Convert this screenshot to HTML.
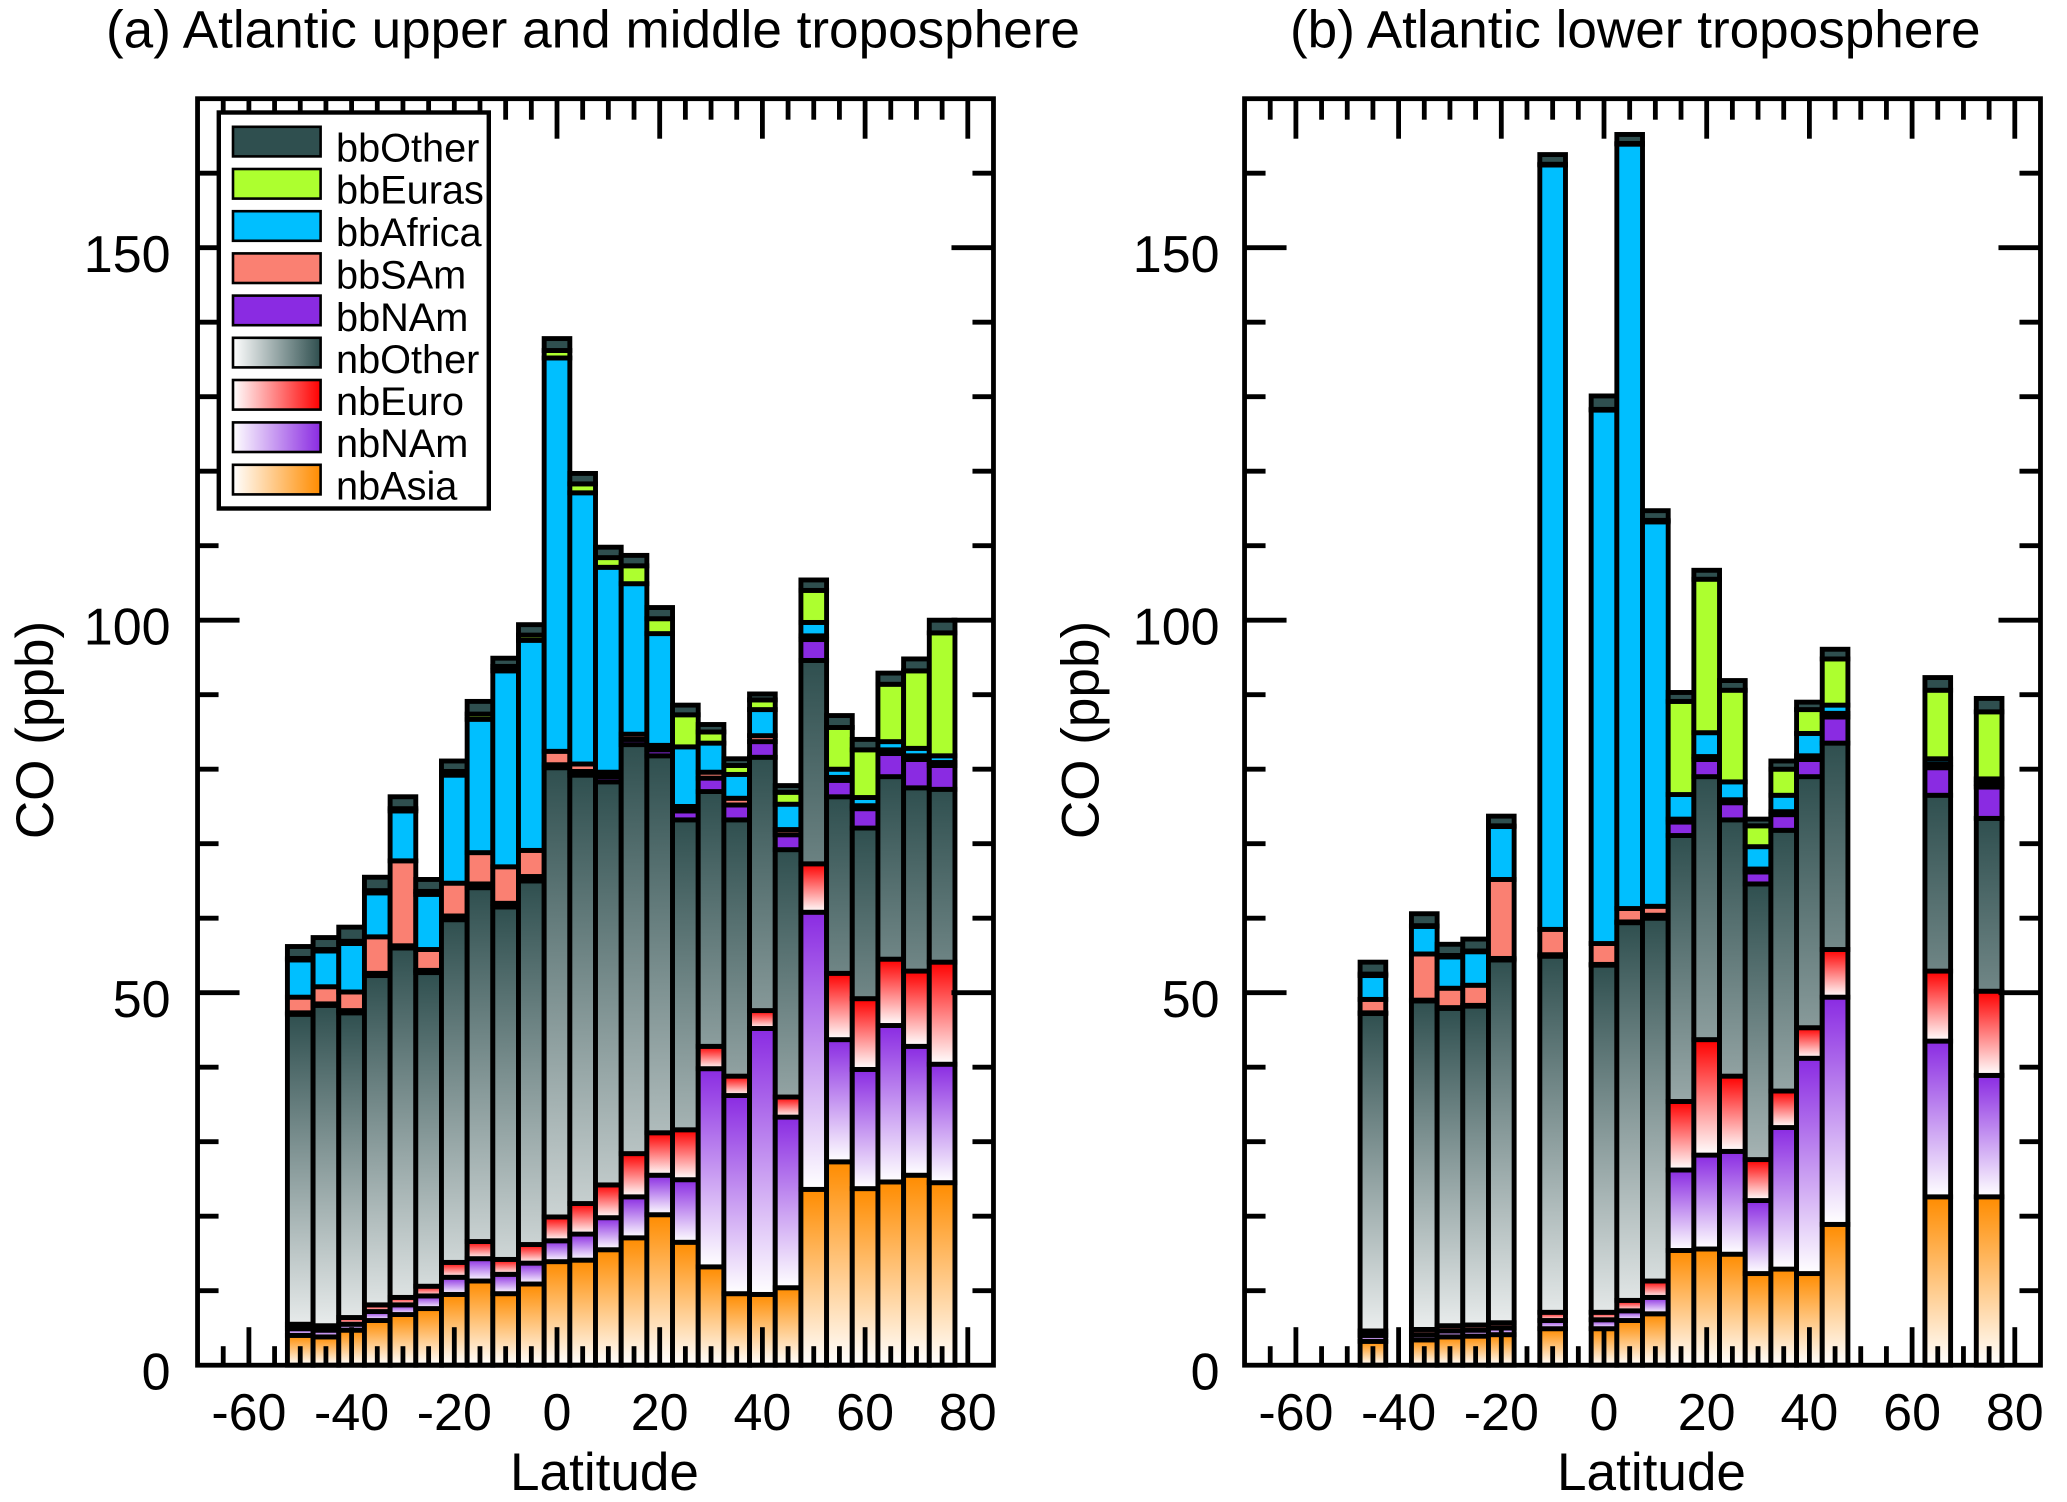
<!DOCTYPE html>
<html lang="en">
<head>
<meta charset="utf-8">
<title>Atlantic CO source contributions by latitude</title>
<style>
html,body{margin:0;padding:0;background:#fff;}
svg{display:block;}
text{font-family:"Liberation Sans",Arial,sans-serif;fill:#000;}
.big{font-size:52px;}
.title{font-size:53.1px;}
.leg{font-size:39.7px;}
</style>
</head>
<body>
<svg id="chart" xmlns="http://www.w3.org/2000/svg" width="2067" height="1502" viewBox="0 0 2067 1502">
  <defs id="defs">
    <linearGradient id="lg-other" x1="0" x2="1" y1="0" y2="0"><stop offset="0" stop-color="#fff"/><stop offset="1" stop-color="#2f4f4f"/></linearGradient>
    <linearGradient id="lg-euro" x1="0" x2="1" y1="0" y2="0"><stop offset="0" stop-color="#fff"/><stop offset="1" stop-color="#ff0000"/></linearGradient>
    <linearGradient id="lg-nam" x1="0" x2="1" y1="0" y2="0"><stop offset="0" stop-color="#fff"/><stop offset="1" stop-color="#8a2be2"/></linearGradient>
    <linearGradient id="lg-asia" x1="0" x2="1" y1="0" y2="0"><stop offset="0" stop-color="#fff"/><stop offset="1" stop-color="#ff8c00"/></linearGradient>
  </defs>

  <text class="title" x="106" y="47.5">(a) Atlantic upper and middle troposphere</text>
  <text class="title" x="1290" y="47.5">(b) Atlantic lower troposphere</text>

  <g id="panelA"></g>
  <g id="panelB"></g>

  <text class="title" x="604.5" y="1490" text-anchor="middle">Latitude</text>
  <text class="title" x="1651.5" y="1490" text-anchor="middle">Latitude</text>
  <text class="title" transform="translate(53 730) rotate(-90)" text-anchor="middle">CO (ppb)</text>
  <text class="title" transform="translate(1098.5 730) rotate(-90)" text-anchor="middle">CO (ppb)</text>

  <g>
    <rect x="218.8" y="112.5" width="270" height="396" fill="#fff" stroke="#000" stroke-width="4.4"/>
    <g>
      <rect x="233" y="126.8" width="87.6" height="29.6" fill="#2f4f4f" stroke="#000" stroke-width="2.6"/>
      <text class="leg" x="336" y="161.4">bbOther</text>
    </g>
    <g>
      <rect x="233" y="169" width="87.6" height="29.6" fill="#adff2f" stroke="#000" stroke-width="2.6"/>
      <text class="leg" x="336" y="203.6">bbEuras</text>
    </g>
    <g>
      <rect x="233" y="211.2" width="87.6" height="29.6" fill="#00bfff" stroke="#000" stroke-width="2.6"/>
      <text class="leg" x="336" y="245.8">bbAfrica</text>
    </g>
    <g>
      <rect x="233" y="253.4" width="87.6" height="29.6" fill="#fa8072" stroke="#000" stroke-width="2.6"/>
      <text class="leg" x="336" y="288.6">bbSAm</text>
    </g>
    <g>
      <rect x="233" y="295.6" width="87.6" height="29.6" fill="#8a2be2" stroke="#000" stroke-width="2.6"/>
      <text class="leg" x="336" y="330.8">bbNAm</text>
    </g>
    <g>
      <rect x="233" y="337.8" width="87.6" height="29.6" fill="url(#lg-other)" stroke="#000" stroke-width="2.6"/>
      <text class="leg" x="336" y="372.9">nbOther</text>
    </g>
    <g>
      <rect x="233" y="380" width="87.6" height="29.6" fill="url(#lg-euro)" stroke="#000" stroke-width="2.6"/>
      <text class="leg" x="336" y="414.8">nbEuro</text>
    </g>
    <g>
      <rect x="233" y="422.4" width="87.6" height="29.6" fill="url(#lg-nam)" stroke="#000" stroke-width="2.6"/>
      <text class="leg" x="336" y="457">nbNAm</text>
    </g>
    <g>
      <rect x="233" y="464.8" width="87.6" height="29.6" fill="url(#lg-asia)" stroke="#000" stroke-width="2.6"/>
      <text class="leg" x="336" y="499.3">nbAsia</text>
    </g>
  </g>
</svg>

<script>
// ---- Tick labels ----
const xTickLabels = [-60, -40, -20, 0, 20, 40, 60, 80];
const yTickLabels = [0, 50, 100, 150];

// ---- Panel (a): latitude categories and series (ppb) ----
const latA = [-50,-45,-40,-35,-30,-25,-20,-15,-10,-5,0,5,10,15,20,25,30,35,40,45,50,55,60,65,70,75];
const aNbAsia   = [4.0,3.8,4.7,6.0,6.8,7.6,9.5,11.3,9.6,10.9,13.9,14.1,15.5,17.1,20.2,16.5,13.2,9.6,9.5,10.4,23.6,27.3,23.7,24.6,25.5,24.5];
const aNbNAm    = [0.9,0.9,0.8,1.2,1.3,1.7,2.3,3.0,2.6,2.8,2.8,3.5,4.3,5.5,5.3,8.4,26.6,26.6,35.7,22.9,37.2,16.4,16.0,21.0,17.3,15.9];
const aNbEuro   = [0.6,0.6,0.9,0.9,1.0,1.3,2.0,2.3,2.0,2.5,3.2,4.1,4.4,5.8,5.7,6.7,3.0,2.6,2.4,2.7,6.5,8.9,9.5,8.9,10.1,13.7];
const aNbOther  = [41.6,43.0,40.9,44.2,46.9,42.1,46.0,47.5,47.3,48.8,60.3,57.5,54.1,54.9,50.6,41.6,34.2,34.4,34.0,33.2,27.3,23.7,22.9,24.5,24.6,23.2];
const aBbNAm    = [0.2,0.2,0.3,0.3,0.3,0.3,0.5,0.5,0.5,0.6,0.4,0.5,0.7,0.7,0.8,1.2,1.8,2.0,2.1,2.0,2.8,2.2,2.6,3.1,3.8,3.2];
const aBbSAm    = [2.1,2.3,2.5,4.9,11.4,2.8,4.4,4.2,4.9,3.5,1.8,1.0,0.6,0.7,0.6,0.6,0.8,0.9,0.8,0.7,0.5,0.4,0.4,0.5,0.5,0.4];
const aBbAfrica = [5.0,4.8,6.5,5.9,6.7,7.4,14.5,17.9,26.3,28.2,52.8,36.4,27.5,20.2,15.0,8.0,3.9,3.2,3.5,3.4,1.8,1.1,1.1,1.1,1.0,0.9];
const aBbEuras  = [0.2,0.2,0.3,0.3,0.3,0.4,0.5,0.7,0.6,0.7,1.0,1.2,1.3,2.4,2.0,4.3,1.5,1.2,1.3,1.6,4.3,5.6,6.4,7.7,10.4,16.5];
const aBbOther  = [1.6,1.6,1.9,1.8,1.6,1.6,1.4,1.7,1.1,1.4,1.6,1.4,1.4,1.4,1.5,1.3,1.0,0.9,0.8,0.9,1.4,1.6,1.4,1.5,1.6,1.7];

// ---- Panel (b): latitude categories and series (ppb) ----
const latB = [-45,-35,-30,-25,-20,-10,0,5,10,15,20,25,30,35,40,45,65,75];
const bNbAsia   = [3.2,3.4,3.8,3.9,4.1,4.9,4.9,6.0,6.9,15.4,15.6,14.9,12.3,12.9,12.3,18.9,22.6,22.6];
const bNbNAm    = [0.8,0.7,0.8,0.8,0.9,1.1,1.2,1.3,2.2,10.8,12.6,13.8,9.8,19.0,28.9,30.5,20.9,16.3];
const bNbEuro   = [0.6,0.7,0.7,0.7,0.7,1.1,1.0,1.4,2.2,9.2,15.5,10.1,5.5,4.9,4.1,6.4,9.4,11.3];
const bNbOther  = [42.6,44.1,42.6,42.8,48.7,47.8,46.6,50.7,48.7,35.7,35.3,34.4,37.0,35.0,33.7,27.7,23.6,23.2];
const bBbNAm    = [0.1,0.1,0.1,0.1,0.2,0.2,0.1,0.1,0.4,1.8,2.3,2.3,1.6,2.1,2.3,3.5,3.7,4.2];
const bBbSAm    = [1.8,6.2,2.6,2.7,10.6,3.4,2.8,1.8,1.2,0.4,0.4,0.4,0.4,0.4,0.5,0.5,0.5,0.5];
const bBbAfrica = [3.2,3.7,4.2,4.5,7.1,102.6,71.6,102.6,51.6,3.3,3.2,2.4,3.0,2.2,3.0,1.1,0.7,0.6];
const bBbEuras  = [0.2,0.1,0.2,0.1,0.1,0.1,0.1,0.1,0.2,12.5,20.6,12.3,2.8,3.5,3.2,6.2,9.2,9.0];
const bBbOther  = [1.6,1.6,1.5,1.6,1.3,1.3,1.8,1.2,1.3,1.2,1.2,1.3,0.9,1.1,1.0,1.3,1.7,1.8];

const NS = 'http://www.w3.org/2000/svg';
const defs = document.getElementById('defs');
const X_MIN = -70, X_MAX = 85, Y_MIN = 0, Y_MAX = 170;
const PX_PER_DEG = 5.135, PX_PER_PPB = 7.45, Y_ZERO = 1365.2, HALF_BIN = 2.5;
const yScale = function (v) { return Y_ZERO - (v - Y_MIN) * PX_PER_PPB; };
let gradCount = 0;

function svgEl(tag, attrs, parent) {
  const el = document.createElementNS(NS, tag);
  for (const k in attrs) el.setAttribute(k, attrs[k]);
  parent.appendChild(el);
  return el;
}

function verticalGradient(color, yBottom, yTop) {
  const id = 'seg-grad-' + (gradCount++);
  const g = svgEl('linearGradient', {id: id, gradientUnits: 'userSpaceOnUse', x1: 0, x2: 0, y1: yBottom, y2: yTop}, defs);
  svgEl('stop', {offset: 0, 'stop-color': '#ffffff'}, g);
  svgEl('stop', {offset: 1, 'stop-color': color}, g);
  return 'url(#' + id + ')';
}

function drawPanel(groupId, left, prefix, lats, series, yLabelShift) {
  const root = document.getElementById(groupId);
  const xScale = function (lat) { return left + (lat - X_MIN) * PX_PER_DEG; };
  const right = xScale(X_MAX), top = yScale(Y_MAX), bottom = yScale(Y_MIN);

  lats.forEach(function (lat, i) {
    const bar = svgEl('g', {}, root);
    
    
    let cum = 0;
    series.forEach(function (s) {
      const start = cum;
      cum += s.values[i];
      const yTop = yScale(cum), yBot = yScale(start);
      let fill = s.color;
      if (s.gradient === 'stack') fill = verticalGradient(s.color, yScale(0), yTop);
      if (s.gradient === 'segment') fill = verticalGradient(s.color, yBot, yTop);
      const r = svgEl('rect', {
        x: xScale(lat - HALF_BIN), y: yTop,
        width: xScale(lat + HALF_BIN) - xScale(lat - HALF_BIN),
        height: Math.max(0, yBot - yTop),
        fill: fill, stroke: '#000', 'stroke-width': 4.9
      }, bar);
      
      
    });
  });

  const frame = svgEl('rect', {x: left, y: top, width: right - left, height: bottom - top, fill: 'none', stroke: '#000', 'stroke-width': 4.8}, root);
  
  

  const ticks = svgEl('g', {stroke: '#000', 'stroke-width': 4.8}, root);
  
  
  for (let lat = X_MIN + 5; lat < X_MAX; lat += 5) {
    const len = lat % 20 === 0 ? 38 : 19;
    const x = xScale(lat);
    svgEl('line', {x1: x, x2: x, y1: bottom, y2: bottom - len}, ticks);
    svgEl('line', {x1: x, x2: x, y1: top, y2: top + len + 2}, ticks);
  }
  for (let v = Y_MIN + 10; v < Y_MAX; v += 10) {
    const len = v % 50 === 0 ? 42 : 21;
    const y = yScale(v);
    svgEl('line', {x1: left, x2: left + len, y1: y, y2: y}, ticks);
    svgEl('line', {x1: right, x2: right - len, y1: y, y2: y}, ticks);
  }

  xTickLabels.forEach(function (lat) {
    const t = svgEl('text', {x: xScale(lat), y: 1430, 'text-anchor': 'middle', class: 'big'}, root);
    t.textContent = String(lat);
    
    
  });
  yTickLabels.forEach(function (v) {
    const t = svgEl('text', {x: left - 27 + yLabelShift, y: yScale(v) + 24.5, 'text-anchor': 'end', class: 'big'}, root);
    t.textContent = String(v);
    
    
  });
}

drawPanel('panelA', 197.55, 'panel-a', latA, [
  {name: 'nbasia',   color: '#ff8c00', gradient: 'segment', values: aNbAsia},
  {name: 'nbnam',    color: '#8a2be2', gradient: 'segment', values: aNbNAm},
  {name: 'nbeuro',   color: '#ff0000', gradient: 'segment', values: aNbEuro},
  {name: 'nbother',  color: '#2f4f4f', gradient: 'stack',   values: aNbOther},
  {name: 'bbnam',    color: '#8a2be2', gradient: null,      values: aBbNAm},
  {name: 'bbsam',    color: '#fa8072', gradient: null,      values: aBbSAm},
  {name: 'bbafrica', color: '#00bfff', gradient: null,      values: aBbAfrica},
  {name: 'bbeuras',  color: '#adff2f', gradient: null,      values: aBbEuras},
  {name: 'bbother',  color: '#2f4f4f', gradient: null,      values: aBbOther}
], 0);

drawPanel('panelB', 1244.55, 'panel-b', latB, [
  {name: 'nbasia',   color: '#ff8c00', gradient: 'segment', values: bNbAsia},
  {name: 'nbnam',    color: '#8a2be2', gradient: 'segment', values: bNbNAm},
  {name: 'nbeuro',   color: '#ff0000', gradient: 'segment', values: bNbEuro},
  {name: 'nbother',  color: '#2f4f4f', gradient: 'stack',   values: bNbOther},
  {name: 'bbnam',    color: '#8a2be2', gradient: null,      values: bBbNAm},
  {name: 'bbsam',    color: '#fa8072', gradient: null,      values: bBbSAm},
  {name: 'bbafrica', color: '#00bfff', gradient: null,      values: bBbAfrica},
  {name: 'bbeuras',  color: '#adff2f', gradient: null,      values: bBbEuras},
  {name: 'bbother',  color: '#2f4f4f', gradient: null,      values: bBbOther}
], 2);
</script>
</body>
</html>
